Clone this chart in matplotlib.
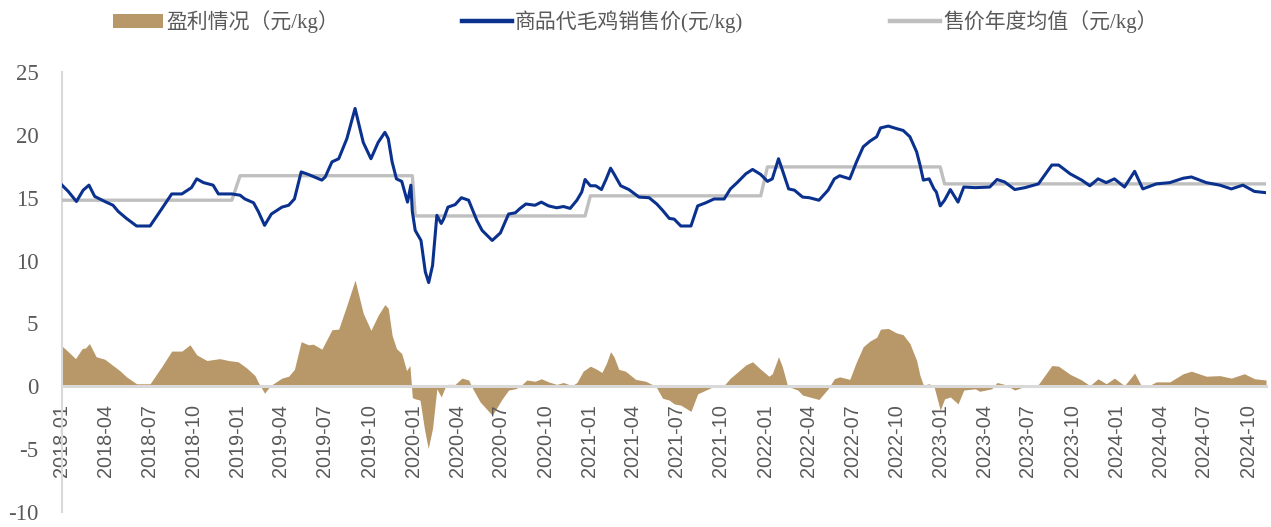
import matplotlib
matplotlib.use("Agg")
import matplotlib.pyplot as plt
import matplotlib.dates as mdates
from matplotlib.patches import Patch
from matplotlib.lines import Line2D
import pandas as pd

plt.rcParams['axes.unicode_minus'] = False

# 商品代毛鸡销售价 (元/kg)
price_dates = [
    '2018-01-01', '2018-01-14', '2018-01-31', '2018-02-14', '2018-02-26', '2018-03-10',
    '2018-03-31', '2018-04-17', '2018-04-28', '2018-05-15', '2018-06-05', '2018-07-03',
    '2018-07-27', '2018-08-17', '2018-09-07', '2018-09-27', '2018-10-08', '2018-10-22',
    '2018-11-11', '2018-11-22', '2018-12-20',
    '2019-01-06', '2019-01-16', '2019-02-03', '2019-02-13', '2019-02-26', '2019-03-12',
    '2019-04-03', '2019-04-17', '2019-04-29', '2019-05-13', '2019-05-28', '2019-06-25',
    '2019-07-02', '2019-07-16', '2019-07-30', '2019-08-16', '2019-09-02', '2019-09-19',
    '2019-10-05', '2019-10-20', '2019-11-03', '2019-11-10', '2019-11-18', '2019-11-27',
    '2019-12-08', '2019-12-20', '2019-12-27', '2019-12-30',
    '2020-01-05', '2020-01-17', '2020-01-26', '2020-02-02', '2020-02-10', '2020-02-19',
    '2020-02-28', '2020-03-04', '2020-03-13', '2020-03-28', '2020-04-10', '2020-04-25',
    '2020-05-12', '2020-05-23', '2020-06-13', '2020-06-30', '2020-07-17', '2020-07-31',
    '2020-08-10', '2020-08-22', '2020-09-10', '2020-09-23', '2020-10-08', '2020-10-25',
    '2020-11-08', '2020-11-22', '2020-12-06', '2020-12-16', '2020-12-23',
    '2021-01-03', '2021-01-14', '2021-01-26', '2021-02-05', '2021-02-14', '2021-02-21',
    '2021-03-07', '2021-03-24', '2021-04-14', '2021-05-05', '2021-05-21', '2021-06-02',
    '2021-06-16', '2021-06-26', '2021-07-10', '2021-07-31', '2021-08-14', '2021-08-31',
    '2021-09-17', '2021-10-08', '2021-10-21', '2021-11-04', '2021-11-22', '2021-12-06',
    '2021-12-23',
    '2022-01-06', '2022-01-16', '2022-01-29', '2022-02-06', '2022-02-19', '2022-03-03',
    '2022-03-20', '2022-04-03', '2022-04-23', '2022-05-12', '2022-05-25', '2022-06-05',
    '2022-06-26', '2022-07-10', '2022-07-24', '2022-08-07', '2022-08-21', '2022-08-29',
    '2022-09-14', '2022-10-01', '2022-10-15', '2022-10-29', '2022-11-12', '2022-11-19',
    '2022-11-26', '2022-12-08', '2022-12-18', '2022-12-23', '2022-12-31',
    '2023-01-09', '2023-01-21', '2023-02-06', '2023-02-18', '2023-03-14', '2023-04-13',
    '2023-04-28', '2023-05-14', '2023-06-04', '2023-06-25', '2023-07-23', '2023-08-20',
    '2023-09-03', '2023-09-27', '2023-10-21', '2023-11-07', '2023-11-24', '2023-12-11',
    '2023-12-28',
    '2024-01-18', '2024-02-08', '2024-02-25', '2024-03-24', '2024-04-21', '2024-05-19',
    '2024-06-05', '2024-07-06', '2024-08-03', '2024-08-27', '2024-09-20', '2024-10-14',
    '2024-11-07',
]
price_values = [
    16.0, 15.5, 14.7, 15.6, 16.0, 15.1,
    14.7, 14.4, 13.9, 13.35, 12.75, 12.75,
    14.1, 15.3, 15.3, 15.8, 16.5, 16.2,
    16.0, 15.3, 15.3,
    15.2, 14.9, 14.6, 13.9, 12.8, 13.7,
    14.25, 14.4, 14.9, 17.05, 16.85, 16.4,
    16.65, 17.85, 18.1, 19.7, 22.1, 19.4,
    18.1, 19.4, 20.2, 19.7, 17.85, 16.5,
    16.3, 14.65, 16.0, 13.9,
    12.4, 11.6, 9.1, 8.25, 9.6, 13.6,
    12.95, 13.3, 14.25, 14.45, 15.0, 14.8,
    13.2, 12.4, 11.6, 12.2, 13.7, 13.8,
    14.15, 14.5, 14.4, 14.65, 14.35, 14.2,
    14.3, 14.15, 14.8, 15.45, 16.45,
    15.95, 15.95, 15.65, 16.5, 17.35, 16.9,
    15.95, 15.65, 15.05, 15.0, 14.5, 14.0,
    13.35, 13.3, 12.75, 12.75, 14.35, 14.6,
    14.9, 14.9, 15.7, 16.2, 16.9, 17.25,
    16.85,
    16.3, 16.5, 18.1, 17.2, 15.7, 15.6,
    15.05, 15.0, 14.8, 15.6, 16.5, 16.75,
    16.5, 17.85, 19.05, 19.5, 19.85, 20.55,
    20.7, 20.5, 20.35, 19.85, 18.65, 17.6,
    16.4, 16.5, 15.7, 15.45, 14.35,
    14.8, 15.65, 14.65, 15.85, 15.8, 15.85,
    16.45, 16.25, 15.65, 15.8, 16.1, 17.6,
    17.6, 16.9, 16.4, 15.95, 16.5, 16.2,
    16.5,
    15.85, 17.1, 15.7, 16.1, 16.2, 16.55,
    16.65, 16.2, 16.0, 15.7, 16.0, 15.5,
    15.4,
]

# 盈利情况 (元/kg)
profit_dates = [
    '2018-01-01', '2018-01-14', '2018-01-29', '2018-02-12', '2018-02-19', '2018-02-27',
    '2018-03-13', '2018-03-31', '2018-04-17', '2018-05-01', '2018-05-15', '2018-06-05',
    '2018-07-03', '2018-07-27', '2018-08-17', '2018-09-07', '2018-09-24', '2018-10-08',
    '2018-10-29', '2018-11-25', '2018-12-13',
    '2019-01-02', '2019-01-20', '2019-02-06', '2019-02-13', '2019-02-26', '2019-03-10',
    '2019-04-03', '2019-04-17', '2019-04-29', '2019-05-13', '2019-05-28', '2019-06-07',
    '2019-06-25', '2019-07-16', '2019-07-30', '2019-08-16', '2019-09-02', '2019-09-19',
    '2019-10-05', '2019-10-20', '2019-11-03', '2019-11-10', '2019-11-18', '2019-11-27',
    '2019-12-08', '2019-12-18', '2019-12-25', '2019-12-30',
    '2020-01-05', '2020-01-15', '2020-01-24', '2020-02-01', '2020-02-10', '2020-02-19',
    '2020-02-28', '2020-03-07', '2020-03-13', '2020-03-28', '2020-04-11', '2020-04-25',
    '2020-05-05', '2020-05-19', '2020-06-13', '2020-07-03', '2020-07-17', '2020-07-31',
    '2020-08-10', '2020-08-24', '2020-09-10', '2020-09-23', '2020-10-08', '2020-10-25',
    '2020-11-08', '2020-11-26', '2020-12-06', '2020-12-19',
    '2021-01-03', '2021-01-14', '2021-01-27', '2021-02-05', '2021-02-14', '2021-02-21',
    '2021-03-03', '2021-03-17', '2021-04-07', '2021-04-28', '2021-05-19', '2021-06-02',
    '2021-06-16', '2021-06-26', '2021-07-10', '2021-07-31', '2021-08-14', '2021-08-31',
    '2021-09-17', '2021-10-05', '2021-10-21', '2021-11-04', '2021-11-22', '2021-12-06',
    '2021-12-23',
    '2022-01-09', '2022-01-16', '2022-01-29', '2022-02-06', '2022-02-17', '2022-03-10',
    '2022-03-20', '2022-04-23', '2022-05-12', '2022-05-25', '2022-06-05', '2022-06-26',
    '2022-07-10', '2022-07-24', '2022-08-07', '2022-08-21', '2022-08-29', '2022-09-14',
    '2022-10-01', '2022-10-15', '2022-10-29', '2022-11-12', '2022-11-19', '2022-11-26',
    '2022-12-08', '2022-12-18', '2022-12-31',
    '2023-01-09', '2023-01-21', '2023-02-06', '2023-02-18', '2023-03-14', '2023-03-23',
    '2023-04-17', '2023-04-28', '2023-05-14', '2023-06-04', '2023-06-25', '2023-07-23',
    '2023-08-20', '2023-09-03', '2023-09-27', '2023-10-21', '2023-11-07', '2023-11-24',
    '2023-12-11', '2023-12-28',
    '2024-01-18', '2024-02-08', '2024-02-21', '2024-03-09', '2024-03-24', '2024-04-21',
    '2024-05-19', '2024-06-05', '2024-07-06', '2024-08-03', '2024-08-27', '2024-09-23',
    '2024-10-14', '2024-11-07',
]
profit_values = [
    3.2, 2.75, 2.2, 3.0, 3.05, 3.4,
    2.35, 2.15, 1.65, 1.25, 0.75, 0.2,
    0.2, 1.55, 2.8, 2.8, 3.3, 2.5,
    2.05, 2.2, 2.05,
    1.95, 1.45, 0.85, 0.3, -0.55, 0.05,
    0.65, 0.8, 1.35, 3.55, 3.3, 3.35,
    2.95, 4.5, 4.55, 6.45, 8.45, 5.8,
    4.45, 5.65, 6.5, 6.2, 4.05, 3.0,
    2.6, 1.25, 1.65, -0.9,
    -1.0, -1.1, -3.35, -4.95, -3.35, -0.2,
    -0.85, -0.1, 0.15, 0.15, 0.65, 0.5,
    -0.3, -1.25, -2.3, -1.05, -0.3, -0.2,
    0.0, 0.5, 0.4, 0.6, 0.35, 0.15,
    0.3, 0.05, 0.3, 1.2,
    1.6, 1.4, 1.1, 1.8, 2.75, 2.35,
    1.35, 1.2, 0.55, 0.4, 0.0, -0.95,
    -1.1, -1.4, -1.5, -2.0, -0.6, -0.3,
    0.0, -0.05, 0.65, 1.1, 1.7, 1.95,
    1.35,
    0.8, 1.0, 2.35, 1.55, 0.0, -0.3,
    -0.7, -1.05, -0.2, 0.6, 0.75, 0.55,
    1.95, 3.15, 3.6, 3.9, 4.55, 4.6,
    4.25, 4.1, 3.4, 2.05, 0.85, 0.1,
    0.2, 0.0, -1.9,
    -1.0, -0.85, -1.4, -0.3, -0.2, -0.4,
    -0.2, 0.3, 0.15, -0.3, 0.0, 0.15,
    1.65, 1.6, 0.95, 0.5, 0.05, 0.6,
    0.2, 0.65,
    0.05, 1.05, 0.1, 0.05, 0.35, 0.35,
    1.0, 1.2, 0.8, 0.85, 0.65, 1.0,
    0.6, 0.5,
]

# 售价年度均值 (元/kg)
avg_years = [2018, 2019, 2020, 2021, 2022, 2023, 2024]
avg_values = [14.8, 16.75, 13.55, 15.15, 17.45, 16.1, 16.1]

legend_labels = ['盈利情况（元/kg）', '商品代毛鸡销售价(元/kg)', '售价年度均值（元/kg）']

BLUE = '#0B318F'
TAN = '#B89768'
GREY = '#BFBFBF'
LIGHT = '#D9D9D9'
TEXT = '#595959'

price = pd.Series(price_values, index=pd.to_datetime(price_dates))
profit = pd.Series(profit_values, index=pd.to_datetime(profit_dates))

# yearly average drawn as a flat segment across each year's data
avg_x, avg_y = [], []
for year, val in zip(avg_years, avg_values):
    idx = price.index[price.index.year == year]
    avg_x += [idx[0], idx[-1]]
    avg_y += [val, val]

W, H = 1271, 527
fig = plt.figure(figsize=(W / 100, H / 100), dpi=100)
ax = fig.add_axes([62 / W, 1 - 512 / H, (1266 - 62) / W, (512 - 72) / H])

ax.fill_between(profit.index, profit.values, 0, color=TAN, lw=0, zorder=1)
ax.plot(avg_x, avg_y, color=GREY, lw=2.4, zorder=3)
ax.plot(price.index, price.values, color=BLUE, lw=2.2, zorder=4)

ax.set_ylim(-10, 25)
ax.set_yticks(range(-10, 30, 5))
ax.set_xlim(price.index[0], price.index[-1])

ax.xaxis.set_major_locator(mdates.MonthLocator(bymonth=[1, 4, 7, 10]))
ax.xaxis.set_major_formatter(mdates.DateFormatter('%Y-%m'))

for side in ('top', 'right'):
    ax.spines[side].set_visible(False)
ax.spines['left'].set_color(LIGHT)
ax.spines['left'].set_linewidth(1.5)
ax.spines['bottom'].set_position(('data', 0))
ax.spines['bottom'].set_color(LIGHT)
ax.spines['bottom'].set_linewidth(2.2)
ax.spines['bottom'].set_zorder(2)

ax.tick_params(axis='x', length=0, pad=13, labelsize=14.3, labelcolor=TEXT, labelrotation=90)
ax.tick_params(axis='y', length=0, pad=17, labelsize=16.5, labelcolor=TEXT)
for lab in ax.get_xticklabels():
    lab.set_family('Liberation Sans')
for lab in ax.get_yticklabels():
    lab.set_family('Liberation Serif')

# one legend per entry so each sits where the reference puts it
handles = [
    Patch(facecolor=TAN, edgecolor='none'),
    Line2D([], [], color=BLUE, lw=3.2),
    Line2D([], [], color=GREY, lw=3.2),
]
legend_x = [113, 462, 890]
for h, lab, x in zip(handles, legend_labels, legend_x):
    leg = fig.legend([h], [lab], loc='center left', bbox_to_anchor=(x / W, 1 - 22 / H),
                     frameon=False, borderpad=0, borderaxespad=0,
                     handlelength=2.4, handleheight=0.6, handletextpad=0.15,
                     prop={'family': ['Liberation Serif', 'Noto Sans CJK SC'], 'size': 15})
    for t in leg.get_texts():
        t.set_color(TEXT)

fig.savefig('out.png', dpi=100)
